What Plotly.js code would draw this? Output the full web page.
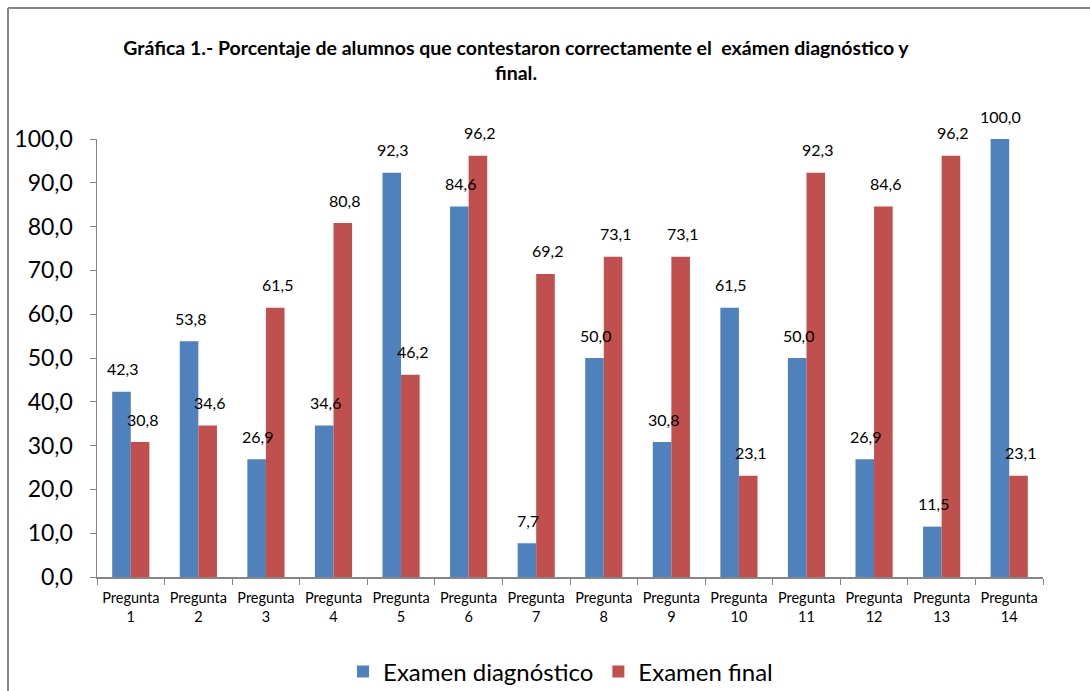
<!DOCTYPE html>
<html>
<head>
<meta charset="utf-8">
<script src="https://cdn.plot.ly/plotly-3.0.1.min.js"></script>
<style>html,body{margin:0;padding:0;background:#fff;}#chart{width:1090px;height:691px;}</style>
</head>
<body>
<div id="chart"></div>
<script>
const categories = ["Pregunta<br>1","Pregunta<br>2","Pregunta<br>3","Pregunta<br>4","Pregunta<br>5","Pregunta<br>6","Pregunta<br>7","Pregunta<br>8","Pregunta<br>9","Pregunta<br>10","Pregunta<br>11","Pregunta<br>12","Pregunta<br>13","Pregunta<br>14"];
const diagnostico = [42.3, 53.8, 26.9, 34.6, 92.3, 84.6, 7.7, 50.0, 30.8, 61.5, 50.0, 26.9, 11.5, 100.0];
const final = [30.8, 34.6, 61.5, 80.8, 46.2, 96.2, 69.2, 73.1, 73.1, 23.1, 92.3, 84.6, 96.2, 23.1];
const seriesNames = ["Examen diagnóstico", "Examen final"];
const yTicks = [0,10,20,30,40,50,60,70,80,90,100];

const L = 97, R = 47, T = 139, B = 114, W = 1090, H = 691;
const pw = W - L - R, ph = H - T - B;

function fmt(v){ return v.toFixed(1).replace('.', ','); }

const annotations = [];
const off = (pw/14) * 0.55 / 4;
categories.forEach((c,i)=>{
  annotations.push({x:c, y:diagnostico[i], xref:'x', yref:'y', text:fmt(diagnostico[i]), showarrow:false, xshift:-off+1, yshift:23, font:{family:'Lato, sans-serif', size:16, color:'#000'}});
  annotations.push({x:c, y:final[i], xref:'x', yref:'y', text:fmt(final[i]), showarrow:false, xshift:off+2, yshift:23, font:{family:'Lato, sans-serif', size:16, color:'#000'}});
});

const traces = [
  {type:'bar', x:categories, y:diagnostico, name:seriesNames[0], marker:{color:'#4F81BD'}},
  {type:'bar', x:categories, y:final, name:seriesNames[1], marker:{color:'#C0504D'}}
];

const layout = {
  width:W, height:H,
  margin:{l:L, r:R, t:T, b:B, autoexpand:false},
  paper_bgcolor:'#fff', plot_bgcolor:'#fff',
  separators:',.',
  barmode:'group', bargap:0.45, bargroupgap:0,
  font:{family:'Lato, sans-serif', color:'#000'},
  title:{text:'<b>Gráfica 1.- Porcentaje de alumnos que contestaron correctamente el  exámen diagnóstico y<br>final.</b>', x:516/W, xanchor:'center', y:1-55/H, yanchor:'middle', font:{family:'Lato, sans-serif', size:19.5, color:'#000'}},
  xaxis:{type:'category', showline:true, linecolor:'#868686', linewidth:1.5, ticks:'outside', tickson:'boundaries', ticklen:6, tickcolor:'#868686', showgrid:false, tickfont:{size:14.5, color:'#000'}, ticklabelstandoff:7, automargin:false},
  yaxis:{range:[0,100], tickvals:yTicks, tickformat:'.1f', showline:true, linecolor:'#868686', linewidth:1.5, ticks:'outside', ticklen:6, tickcolor:'#868686', showgrid:false, zeroline:false, tickfont:{size:23, color:'#000'}, ticklabelstandoff:12, automargin:false},
  showlegend:true,
  legend:{orientation:'h', x:0.49, xanchor:'center', y:-(672-577)/ph, yanchor:'middle', font:{size:24, color:'#000'}, itemwidth:30, traceorder:'normal'},
  annotations:annotations,
  shapes:[
    {type:'line', xref:'paper', yref:'paper', x0:(8-L)/pw, x1:(8-L)/pw, y0:(H-B-(H+10))/ph, y1:(H-B-8)/ph, line:{color:'#868686', width:2}},
    {type:'line', xref:'paper', yref:'paper', x0:(8-L)/pw, x1:(W+10-L)/pw, y0:(H-B-8)/ph, y1:(H-B-8)/ph, line:{color:'#868686', width:2}}
  ]
};

Plotly.newPlot('chart', traces, layout, {displayModeBar:false, staticPlot:true});
</script>
</body>
</html>
